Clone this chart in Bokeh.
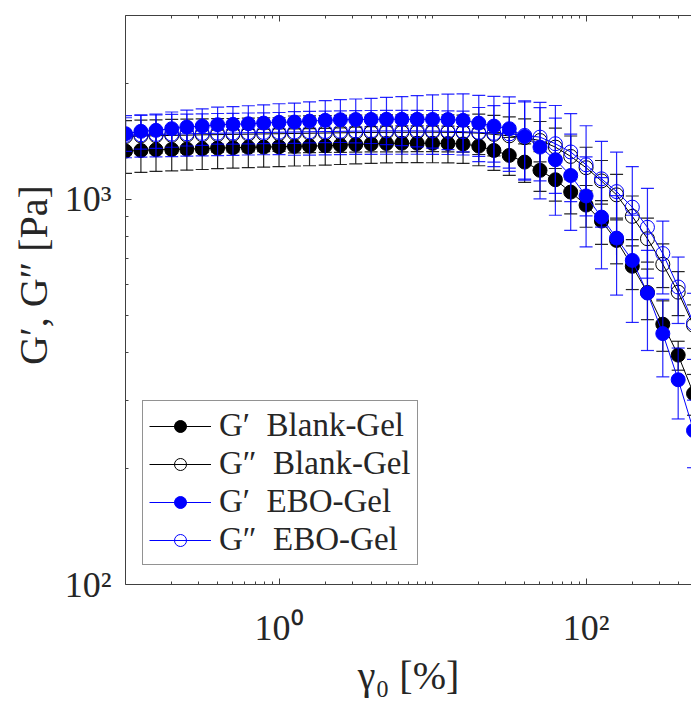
from bokeh.plotting import figure
from bokeh.models import (ColumnDataSource, FixedTicker, LogAxis, Legend,
                          LegendItem, Range1d)
from bokeh.embed import file_html
from bokeh.resources import INLINE

# ---------------- data ----------------
strain = [0.1, 0.126, 0.158, 0.2, 0.251, 0.316, 0.398, 0.501, 0.631, 0.794,
          1.0, 1.26, 1.58, 2.0, 2.51, 3.16, 3.98, 5.01, 6.31, 7.94,
          10.0, 12.6, 15.8, 20.0, 25.1, 31.6, 39.8, 50.1, 63.1, 79.4,
          100.0, 126.0, 158.0, 200.0, 251.0, 316.0, 398.0, 501.0]

gp_blank = [1334, 1339, 1345, 1347, 1350, 1353, 1358, 1361, 1364, 1366,
            1369, 1372, 1374, 1377, 1382, 1388, 1392, 1396, 1398, 1398,
            1397, 1396, 1392, 1374, 1339, 1300, 1249, 1189, 1124, 1044,
            966, 878, 782, 670, 573, 474, 394, 313]
err_gp_blank = [167, 165, 163, 162, 160, 158, 157, 156, 155, 154,
                153, 152, 152, 151, 151, 152, 152, 153, 153, 153,
                153, 153, 153, 152, 150, 147, 143, 140, 135, 128,
                120, 114, 102, 87, 86, 71, 34, 38]

gpp_blank = [1455, 1460, 1462, 1465, 1467, 1470, 1472, 1474, 1476, 1478,
             1480, 1482, 1484, 1486, 1488, 1490, 1491, 1492, 1492, 1493,
             1493, 1492, 1490, 1485, 1474, 1461, 1445, 1421, 1366, 1292,
             1208, 1116, 1027, 903, 790, 678, 574, 471]
err_gpp_blank = [146, 146, 146, 147, 147, 147, 147, 147, 148, 148,
                 148, 163, 163, 163, 164, 164, 164, 164, 164, 164,
                 164, 164, 164, 178, 177, 175, 173, 171, 164, 168,
                 157, 145, 134, 117, 103, 88, 75, 61]

gp_ebo = [1480, 1501, 1510, 1525, 1540, 1549, 1562, 1565, 1571, 1577,
          1584, 1587, 1596, 1603, 1609, 1611, 1612, 1613, 1613, 1613,
          1612, 1611, 1603, 1577, 1549, 1525, 1456, 1366, 1267, 1153,
          1020, 899, 793, 694, 571, 448, 340, 251]
err_gp_ebo = [148, 152, 155, 160, 165, 168, 172, 175, 178, 182,
              186, 190, 195, 200, 205, 210, 216, 226, 235, 245,
              255, 265, 275, 285, 300, 320, 335, 363, 358, 323,
              268, 239, 229, 215, 166, 102, 71, 50]

gpp_ebo = [1465, 1470, 1473, 1476, 1479, 1482, 1484, 1486, 1489, 1491,
           1493, 1495, 1497, 1499, 1501, 1503, 1504, 1505, 1505, 1505,
           1504, 1502, 1498, 1492, 1483, 1478, 1465, 1450, 1394, 1327,
           1229, 1130, 1047, 954, 846, 723, 592, 477]
err_gpp_ebo = [183, 184, 184, 185, 185, 185, 186, 186, 186, 186,
               187, 194, 195, 195, 195, 195, 196, 196, 196, 196,
               196, 195, 195, 239, 267, 296, 337, 334, 358, 341,
               323, 283, 278, 262, 222, 155, 116, 93]

x_major = [1, 100]
x_minor = [0.2, 0.3, 0.4, 0.5, 0.6, 0.7, 0.8, 0.9,
           2, 3, 4, 5, 6, 7, 8, 9, 10,
           20, 30, 40, 50, 60, 70, 80, 90,
           200, 300, 400, 500]
y_major = [100, 1000]
y_minor = [200, 300, 400, 500, 600, 700, 800, 900, 2000, 3000]
x_labels = {1: "10\u2070", 100: "10\u00b2"}
y_labels = {100: "10\u00b2", 1000: "10\u00b3"}
top_labels = {1: "", 100: ""}
x_title = "\u03b3\u2080 [%]"
y_title = "\u00a0" * 6 + "G\u2032, G\u2033  [Pa]"

series = [
    ("G\u2032  Blank-Gel", gp_blank, err_gp_blank, "#000000", True),
    ("G\u2033  Blank-Gel", gpp_blank, err_gpp_blank, "#000000", False),
    ("G\u2032  EBO-Gel", gp_ebo, err_gp_ebo, "#0000ff", True),
    ("G\u2033  EBO-Gel", gpp_ebo, err_gpp_ebo, "#0000ff", False),
]

SERIF = "Liberation Serif"
AXC = "#404040"
TXC = "#262626"

p = figure(width=691, height=711, x_axis_type="log", y_axis_type="log",
           x_range=Range1d(0.1, 486), y_range=Range1d(100, 3000),
           output_backend="svg", toolbar_location=None,
           min_border_left=125, min_border_right=0,
           min_border_top=15, min_border_bottom=127)
p.outline_line_color = None
p.grid.visible = False
p.background_fill_color = "white"
p.border_fill_color = "white"

items = []
for label, vals, errs, color, filled in series:
    lo = [v - e for v, e in zip(vals, errs)]
    hi = [v + e for v, e in zip(vals, errs)]
    src = ColumnDataSource(dict(x=strain, y=vals, lo=lo, hi=hi))
    p.segment(x0="x", y0="lo", x1="x", y1="hi", source=src,
              line_color=color, line_width=1.2, line_alpha=0.85)
    p.scatter(x="x", y="lo", marker="dash", size=13, source=src,
              line_color=color, line_width=1.2, line_alpha=0.85)
    p.scatter(x="x", y="hi", marker="dash", size=13, source=src,
              line_color=color, line_width=1.2, line_alpha=0.85)
    ln = p.line(x="x", y="y", source=src, line_color=color, line_width=1)
    mk = p.scatter(x="x", y="y", marker="circle", size=14, source=src,
                   line_color=color, line_width=1,
                   fill_color=color if filled else None)
    items.append(LegendItem(label=label, renderers=[ln, mk]))


def style_axis(ax, ticks, minor, labels):
    ax.ticker = FixedTicker(ticks=ticks, minor_ticks=minor)
    ax.axis_line_color = AXC
    ax.major_tick_line_color = AXC
    ax.minor_tick_line_color = AXC
    ax.major_tick_in = 6
    ax.major_tick_out = 0
    ax.minor_tick_in = 3
    ax.minor_tick_out = 0
    ax.major_label_text_font = SERIF
    ax.major_label_text_font_size = "36px"
    ax.major_label_text_color = TXC
    ax.major_label_overrides = labels
    ax.axis_label_text_font = SERIF
    ax.axis_label_text_font_size = "40px"
    ax.axis_label_text_font_style = "normal"
    ax.axis_label_text_color = TXC


style_axis(p.xaxis[0], x_major, x_minor, x_labels)
style_axis(p.yaxis[0], y_major, y_minor, y_labels)
p.xaxis[0].major_label_standoff = 23
p.yaxis[0].major_label_standoff = 14
p.xaxis[0].axis_label = x_title
p.yaxis[0].axis_label = y_title
p.xaxis[0].axis_label_standoff = 2
p.yaxis[0].axis_label_standoff = 6

top = LogAxis()
style_axis(top, x_major, x_minor, top_labels)
top.major_label_standoff = 0
p.add_layout(top, "above")

legend = Legend(items=items, location=(17, 19),
                label_text_font=SERIF, label_text_font_size="33px",
                label_text_color=TXC,
                glyph_width=62, glyph_height=30, label_height=30,
                spacing=1, padding=6, label_standoff=8, margin=0,
                border_line_color=TXC, border_line_width=1,
                background_fill_color="white", background_fill_alpha=1.0)
p.add_layout(legend)

open("out.html", "w").write(file_html(p, INLINE))
